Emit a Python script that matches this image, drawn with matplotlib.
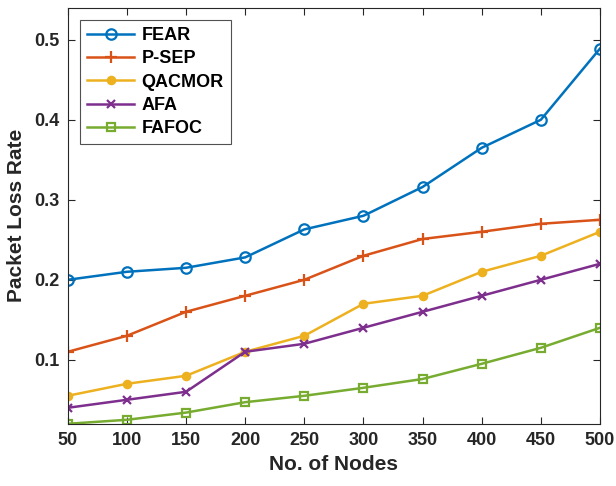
import matplotlib
matplotlib.use("Agg")
import matplotlib.pyplot as plt

nodes = [50, 100, 150, 200, 250, 300, 350, 400, 450, 500]
fear = [0.200, 0.210, 0.215, 0.228, 0.263, 0.280, 0.316, 0.365, 0.400, 0.489]
psep = [0.110, 0.130, 0.160, 0.180, 0.200, 0.230, 0.251, 0.260, 0.270, 0.275]
qacmor = [0.055, 0.070, 0.080, 0.110, 0.130, 0.170, 0.180, 0.210, 0.230, 0.260]
afa = [0.040, 0.050, 0.060, 0.110, 0.120, 0.140, 0.160, 0.180, 0.200, 0.220]
fafoc = [0.020, 0.025, 0.034, 0.047, 0.055, 0.065, 0.076, 0.095, 0.115, 0.140]

plt.rcParams['font.family'] = ['Liberation Sans', 'DejaVu Sans']
plt.rcParams['font.weight'] = 'bold'

fig = plt.figure(figsize=(6.16, 4.86), dpi=100)
ax = fig.add_axes([0.110, 0.128, 0.864, 0.856])

lw = 1.8
ax.plot(nodes, fear, color='#0072BD', lw=lw, marker='o', ms=7.5, mfc='none', mew=1.6, label='FEAR')
ax.plot(nodes, psep, color='#D95319', lw=lw, marker='+', ms=8, mew=1.6, label='P-SEP')
ax.plot(nodes, qacmor, color='#EDB120', lw=lw, marker='o', ms=5.5, mfc='#EDB120', mew=1.4, label='QACMOR')
ax.plot(nodes, afa, color='#7E2F8E', lw=lw, marker='x', ms=6, mew=1.6, label='AFA')
ax.plot(nodes, fafoc, color='#77AC30', lw=lw, marker='s', ms=6, mfc='none', mew=1.6, label='FAFOC')

ax.set_xlim(50, 500)
ax.set_ylim(0.02, 0.54)
ax.set_xticks(nodes)
ax.set_yticks([0.1, 0.2, 0.3, 0.4, 0.5])
ax.set_yticklabels(['0.1', '0.2', '0.3', '0.4', '0.5'])
ax.tick_params(direction='in', top=True, right=True, labelsize=13, length=5, width=0.8, colors='#262626', pad=6)
for lab in ax.get_xticklabels() + ax.get_yticklabels():
    lab.set_fontweight('bold')
for s in ax.spines.values():
    s.set_color('#262626')
    s.set_linewidth(0.8)

ax.set_xlabel('No. of Nodes', fontsize=15, fontweight='bold', color='#262626', labelpad=4)
ax.set_ylabel('Packet Loss Rate', fontsize=15, fontweight='bold', color='#262626', labelpad=6)

leg = ax.legend(loc='upper left', bbox_to_anchor=(0.006, 0.993), fontsize=13, frameon=True, fancybox=False,
                edgecolor='#262626', handlelength=2.6, borderpad=0.4, labelspacing=0.35, handletextpad=0.4)
leg.get_frame().set_linewidth(0.8)
for t in leg.get_texts():
    t.set_fontweight('bold')

fig.savefig('out.png', dpi=100)
